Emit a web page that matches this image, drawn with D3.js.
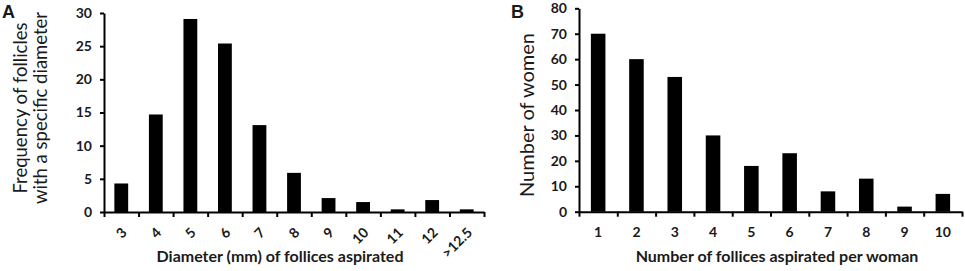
<!DOCTYPE html>
<html>
<head>
<meta charset="utf-8">
<script src="https://cdn.jsdelivr.net/npm/d3@7"></script>
<style>
  body { margin: 0; background: #fff; }
  svg text { font-family: Lato, "Open Sans", sans-serif; fill: #1a1a1a; }
</style>
</head>
<body>
<div id="chart"></div>
<script>
// Panel A: follicle diameter histogram
const diameterLabels = ["3", "4", "5", "6", "7", "8", "9", "10", "11", "12", ">12.5"];
const diameterFreq = [4.3, 14.7, 29.1, 25.4, 13.1, 5.9, 2.1, 1.5, 0.4, 1.8, 0.4];
const freqTicks = [0, 5, 10, 15, 20, 25, 30];

// Panel B: follicles aspirated per woman
const follicleCounts = ["1", "2", "3", "4", "5", "6", "7", "8", "9", "10"];
const womenCounts = [70, 60, 53, 30, 18, 23, 8, 13, 2, 7];
const womenTicks = [0, 10, 20, 30, 40, 50, 60, 70, 80];

const width = 965, height = 271;

const svg = d3.select("#chart").append("svg")
    .attr("width", width)
    .attr("height", height);

// draws one bar panel; rotate = whether x labels are slanted
function drawPanel(opt) {
    const n = opt.cats.length;

    const x = d3.scaleBand()
        .domain(opt.cats)
        .range(opt.xRange)
        .paddingInner(opt.pad)
        .paddingOuter(opt.pad / 2);

    // linear scale for the tick marks between bars
    const xEdge = d3.scaleLinear()
        .domain([0, n])
        .range(opt.xRange);

    const y = d3.scaleLinear()
        .domain([0, d3.max(opt.ticks)])
        .range(opt.yRange);

    const g = svg.append("g");

    // bars
    g.selectAll("rect.bar")
        .data(opt.values)
        .enter()
        .append("rect")
        .attr("class", "bar")
        .attr("x", (d, i) => x(opt.cats[i]))
        .attr("width", x.bandwidth())
        .attr("y", d => y(d))
        .attr("height", d => y(0) - y(d))
        .attr("fill", "#000");

    // y axis
    const yAxis = g.append("g")
        .attr("transform", `translate(${opt.xRange[0]},0)`)
        .call(d3.axisLeft(y).tickValues(opt.ticks).tickSize(4).tickSizeOuter(0).tickPadding(8));
    yAxis.select(".domain").attr("stroke-width", 2);
    yAxis.selectAll(".tick line").attr("stroke-width", 2);
    yAxis.selectAll("text")
        .style("font-size", "14px")
        .style("font-weight", "bold");

    // x axis line with ticks between categories
    const xAxis = g.append("g")
        .attr("transform", `translate(0,${y(0)})`)
        .call(d3.axisBottom(xEdge).tickValues(d3.range(n + 1)).tickFormat("").tickSize(5).tickSizeOuter(0));
    xAxis.select(".domain").attr("stroke-width", 2);
    xAxis.selectAll(".tick line").attr("stroke-width", 2);

    // category labels
    const labels = g.append("g")
        .attr("transform", `translate(0,${y(0)})`)
        .call(d3.axisBottom(x).tickSize(0).tickPadding(15));
    labels.select(".domain").remove();
    labels.selectAll("text")
        .style("font-size", "14px")
        .style("font-weight", "bold");
    if (opt.rotate) {
        labels.selectAll("text")
            .attr("y", 0)
            .attr("dy", "0.35em")
            .attr("text-anchor", "end")
            .attr("transform", "translate(3,18) rotate(-45)");
    }

    // x title
    g.append("text")
        .attr("x", opt.xTitleX)
        .attr("y", 262)
        .attr("text-anchor", "middle")
        .style("font-size", "16px")
        .style("font-weight", "bold")
        .text(opt.xTitle);

    // y title (one or two lines)
    opt.yTitle.forEach((line, i) => {
        g.append("text")
            .attr("transform", `translate(${opt.yTitleX[i]},${opt.yTitleY}) rotate(-90)`)
            .attr("text-anchor", "middle")
            .style("font-size", opt.yTitleSize)
            .text(line);
    });

    // panel letter
    g.append("text")
        .attr("x", opt.letterX)
        .attr("y", 18)
        .style("font-family", "'Liberation Sans', Arial, sans-serif")
        .style("font-size", "18px")
        .style("font-weight", "bold")
        .text(opt.letter);
}

drawPanel({
    cats: diameterLabels,
    values: diameterFreq,
    ticks: freqTicks,
    xRange: [104, 484],
    yRange: [212, 13],
    pad: 0.6,
    rotate: true,
    xTitle: "Diameter (mm) of follices aspirated",
    xTitleX: 280,
    yTitle: ["Frequency of follicles", "with a specific diameter"],
    yTitleX: [27, 47],
    yTitleY: 108,
    yTitleSize: "18.5px",
    letter: "A",
    letterX: 2
});

drawPanel({
    cats: follicleCounts,
    values: womenCounts,
    ticks: womenTicks,
    xRange: [579, 962],
    yRange: [211.7, 8.3],
    pad: 0.62,
    rotate: false,
    xTitle: "Number of follices aspirated per woman",
    xTitleX: 777,
    yTitle: ["Number of women"],
    yTitleX: [534],
    yTitleY: 115,
    yTitleSize: "20px",
    letter: "B",
    letterX: 511
});
</script>
</body>
</html>
